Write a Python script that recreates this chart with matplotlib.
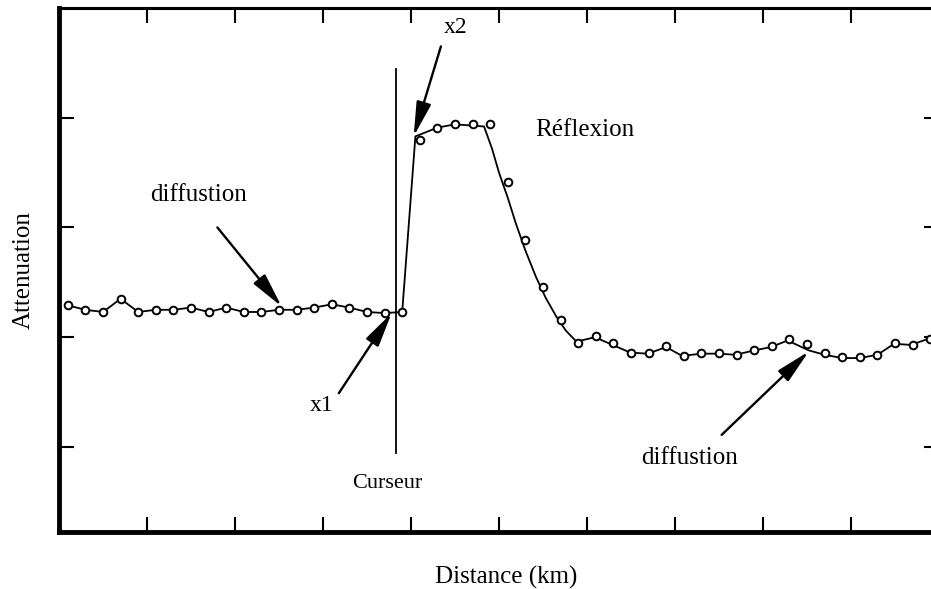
import matplotlib
matplotlib.use("Agg")
import matplotlib.pyplot as plt
import numpy as np

plt.rcParams['font.family'] = ['Liberation Serif', 'DejaVu Serif']

# measured points (circles)
dist_pts = [0.1, 0.3, 0.5, 0.7, 0.9, 1.1, 1.3, 1.5, 1.7, 1.9,
            2.1, 2.3, 2.5, 2.7, 2.9, 3.1, 3.3, 3.5, 3.7, 3.9,
            4.1, 4.3, 4.5, 4.7, 4.9,
            5.1, 5.3, 5.5, 5.7, 5.9, 6.1, 6.3, 6.5, 6.7, 6.9,
            7.1, 7.3, 7.5, 7.7, 7.9, 8.1, 8.3, 8.5, 8.7, 8.9,
            9.1, 9.3, 9.5, 9.7, 9.9]
att_pts = [2.29, 2.25, 2.23, 2.35, 2.23, 2.25, 2.25, 2.27, 2.23, 2.27,
           2.23, 2.23, 2.25, 2.25, 2.27, 2.30, 2.27, 2.23, 2.22, 2.23,
           3.80, 3.91, 3.94, 3.94, 3.94,
           3.41, 2.89, 2.46, 2.16, 1.95, 2.01, 1.95, 1.86, 1.86, 1.92,
           1.83, 1.86, 1.86, 1.84, 1.88, 1.92, 1.98, 1.94, 1.86, 1.82,
           1.82, 1.84, 1.95, 1.93, 1.98]

# fitted trace (solid line)
dist_line = [0.1, 0.3, 0.5, 0.7, 0.9, 1.1, 1.3, 1.5, 1.7, 1.9,
             2.1, 2.3, 2.5, 2.7, 2.9, 3.1, 3.3, 3.5, 3.7, 3.9,
             4.05, 4.3, 4.5, 4.83,
             4.92, 5.0, 5.1, 5.19, 5.3, 5.42, 5.53, 5.65, 5.76, 5.88,
             6.09, 6.49, 6.69, 6.9,
             7.08, 7.3, 7.49, 7.69, 7.9, 8.09, 8.28, 8.52, 8.7, 8.9,
             9.1, 9.3, 9.49, 9.68, 9.86, 10.0]
att_line = [2.29, 2.25, 2.23, 2.35, 2.23, 2.25, 2.25, 2.27, 2.23, 2.27,
            2.23, 2.23, 2.25, 2.25, 2.27, 2.30, 2.27, 2.23, 2.22, 2.23,
            3.83, 3.91, 3.94, 3.92,
            3.72, 3.50, 3.27, 3.04, 2.79, 2.55, 2.36, 2.19, 2.06, 1.96,
            2.00, 1.86, 1.85, 1.91,
            1.83, 1.85, 1.85, 1.84, 1.88, 1.91, 1.97, 1.88, 1.84, 1.81,
            1.81, 1.84, 1.94, 1.93, 1.98, 2.00]

cursor_x = 3.83

fig = plt.figure(figsize=(9.31, 5.89), dpi=100)
ax = fig.add_axes([59 / 931, 57 / 589, 880 / 931, 524 / 589])

ax.plot(dist_line, att_line, color='black', lw=1.3, zorder=2)
ax.plot(dist_pts, att_pts, linestyle='none', marker='o', ms=5.5,
        mfc='white', mec='black', mew=1.4, zorder=3)

# cursor
ax.plot([cursor_x, cursor_x], [0.945, 4.44], color='black', lw=1.3, zorder=2)

arrow = dict(arrowstyle='-|>,head_length=1.4,head_width=0.3', lw=1.7,
             color='black', shrinkA=0, shrinkB=0, mutation_scale=15)

ax.annotate('', xy=(2.53, 2.28), xytext=(1.80, 3.00), arrowprops=arrow)
ax.annotate('', xy=(4.03, 3.83), xytext=(4.34, 4.65), arrowprops=arrow)
ax.annotate('', xy=(3.78, 2.22), xytext=(3.18, 1.49), arrowprops=arrow)
ax.annotate('', xy=(8.52, 1.87), xytext=(7.53, 1.11), arrowprops=arrow)

ax.text(1.59, 3.30, 'diffustion', fontsize=18, ha='center', va='center')
ax.text(4.51, 4.82, 'x2', fontsize=17, ha='center', va='center')
ax.text(5.97, 3.89, 'Réflexion', fontsize=18, ha='center', va='center')
ax.text(2.98, 1.38, 'x1', fontsize=17, ha='center', va='center')
ax.text(3.73, 0.67, 'Curseur', fontsize=16, ha='center', va='center')
ax.text(7.17, 0.90, 'diffustion', fontsize=18, ha='center', va='center')

ax.set_xlim(0, 10)
ax.set_ylim(0.225, 5.0)
ax.set_xticks([1, 2, 3, 4, 5, 6, 7, 8, 9])
ax.set_yticks([1, 2, 3, 4])
ax.tick_params(direction='in', length=11, width=1.5, top=True, right=True,
               labelbottom=False, labelleft=False)

ax.spines['left'].set_linewidth(3.5)
ax.spines['bottom'].set_linewidth(3.5)
ax.spines['top'].set_linewidth(2.2)
ax.spines['right'].set_linewidth(2.2)

ax.set_xlabel('Distance (km)', fontsize=18)
ax.xaxis.label.set_va('center')
ax.xaxis.set_label_coords((506 - 59) / 880, -45 / 524)
ax.set_ylabel('Attenuation', fontsize=18)
ax.yaxis.label.set_va('center')
ax.yaxis.set_label_coords(-35 / 880, 0.5)

plt.savefig('out.png', dpi=100)
